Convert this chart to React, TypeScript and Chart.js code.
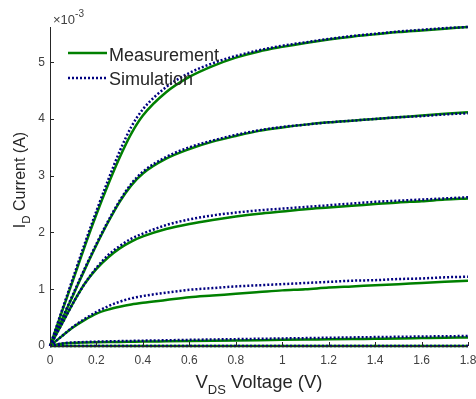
import React, { useEffect, useRef } from 'react';
import { Chart, registerables } from 'chart.js';

Chart.register(...registerables);

// V_DS sweep (V)
const vds = [0, 0.05, 0.1, 0.15, 0.2, 0.25, 0.3, 0.35, 0.4, 0.5, 0.6, 0.7, 0.8, 0.9, 1.0, 1.1, 1.2, 1.3, 1.4, 1.5, 1.6, 1.7, 1.8];

// Drain current in units of 1e-3 A
const measA = [0, 0.59, 1.17, 1.76, 2.32, 2.84, 3.32, 3.74, 4.06, 4.47, 4.74, 4.93, 5.08, 5.19, 5.27, 5.34, 5.4, 5.45, 5.49, 5.53, 5.56, 5.59, 5.62];
const simA = [0, 0.61, 1.21, 1.81, 2.38, 2.92, 3.43, 3.86, 4.17, 4.56, 4.81, 4.98, 5.11, 5.21, 5.29, 5.35, 5.41, 5.46, 5.5, 5.54, 5.57, 5.6, 5.62];
const measB = [0, 0.45, 0.9, 1.35, 1.78, 2.18, 2.54, 2.83, 3.04, 3.3, 3.47, 3.6, 3.7, 3.79, 3.85, 3.9, 3.94, 3.97, 4.0, 4.03, 4.06, 4.09, 4.12];
const simB = [0, 0.46, 0.92, 1.37, 1.8, 2.2, 2.56, 2.86, 3.07, 3.33, 3.5, 3.62, 3.72, 3.8, 3.86, 3.9, 3.94, 3.97, 4.0, 4.03, 4.05, 4.08, 4.1];
const measC = [0, 0.38, 0.76, 1.1, 1.36, 1.56, 1.72, 1.84, 1.93, 2.06, 2.15, 2.22, 2.28, 2.33, 2.37, 2.41, 2.44, 2.47, 2.5, 2.53, 2.55, 2.58, 2.6];
const simC = [0, 0.38, 0.76, 1.1, 1.38, 1.6, 1.76, 1.89, 1.98, 2.13, 2.23, 2.3, 2.35, 2.39, 2.42, 2.45, 2.48, 2.51, 2.54, 2.56, 2.58, 2.6, 2.62];
const measD = [0, 0.17, 0.33, 0.46, 0.57, 0.64, 0.69, 0.73, 0.76, 0.81, 0.86, 0.89, 0.92, 0.95, 0.98, 1.0, 1.03, 1.05, 1.07, 1.09, 1.11, 1.13, 1.15];
const simD = [0, 0.17, 0.34, 0.48, 0.6, 0.7, 0.78, 0.84, 0.88, 0.94, 0.99, 1.02, 1.05, 1.07, 1.09, 1.11, 1.13, 1.15, 1.16, 1.18, 1.19, 1.21, 1.22];
const measE = [0, 0.04, 0.055, 0.062, 0.067, 0.07, 0.072, 0.075, 0.078, 0.083, 0.088, 0.093, 0.098, 0.103, 0.108, 0.113, 0.118, 0.123, 0.128, 0.133, 0.139, 0.145, 0.15];
const simE = [0, 0.045, 0.062, 0.07, 0.077, 0.082, 0.086, 0.09, 0.094, 0.101, 0.108, 0.115, 0.121, 0.127, 0.133, 0.139, 0.145, 0.151, 0.157, 0.162, 0.167, 0.172, 0.176];
const measF = [0, 0, 0, 0, 0, 0, 0, 0, 0, 0, 0, 0, 0, 0, 0, 0, 0, 0, 0, 0, 0, 0, 0];
const simF = [0, 0, 0, 0, 0, 0, 0, 0, 0, 0, 0, 0, 0, 0, 0, 0, 0, 0, 0, 0, 0, 0, 0];

const measSeries = [measA, measB, measC, measD, measE, measF];
const simSeries = [simA, simB, simC, simD, simE, simF];

const xTicks = [0, 0.2, 0.4, 0.6, 0.8, 1.0, 1.2, 1.4, 1.6, 1.8];
const yTicks = [0, 1, 2, 3, 4, 5];
const xMax = 1.8;
const yMax = 5.62;

const legendLabels = ['Measurement', 'Simulation'];
const exponentBase = '\u00d710';
const exponentPower = '-3';

const GREEN = '#008000';
const NAVY = '#000080';
const AXIS = '#262626';
const LABEL = '#404040';
const FONT = '"Liberation Sans", Arial, sans-serif';

const decorPlugin = {
  id: 'decor',
  afterDraw(chart: any) {
    const { ctx, chartArea, scales } = chart;
    const { left, right, top, bottom } = chartArea;
    ctx.save();
    // axis lines
    ctx.strokeStyle = AXIS;
    ctx.lineWidth = 1;
    ctx.beginPath();
    ctx.moveTo(left + 0.5, top);
    ctx.lineTo(left + 0.5, bottom + 0.5);
    ctx.lineTo(right, bottom + 0.5);
    ctx.stroke();
    // inward ticks
    ctx.beginPath();
    xTicks.forEach((v) => {
      const x = Math.round(scales.x.getPixelForValue(v)) + 0.5;
      ctx.moveTo(x, bottom);
      ctx.lineTo(x, bottom - 4);
    });
    yTicks.forEach((v) => {
      const y = Math.round(scales.y.getPixelForValue(v)) + 0.5;
      ctx.moveTo(left, y);
      ctx.lineTo(left + 4, y);
    });
    ctx.stroke();

    // exponent label
    ctx.fillStyle = LABEL;
    ctx.textBaseline = 'alphabetic';
    ctx.textAlign = 'left';
    ctx.font = `13px ${FONT}`;
    ctx.fillText(exponentBase, left + 3, top - 3);
    const bw = ctx.measureText(exponentBase).width;
    ctx.font = `10px ${FONT}`;
    ctx.fillText(exponentPower, left + 3 + bw, top - 10);

    // legend
    const lx0 = 68, lx1 = 107;
    ctx.lineWidth = 2.5;
    ctx.strokeStyle = GREEN;
    ctx.setLineDash([]);
    ctx.beginPath();
    ctx.moveTo(lx0, 53);
    ctx.lineTo(lx1, 53);
    ctx.stroke();
    ctx.strokeStyle = NAVY;
    ctx.setLineDash([2, 2]);
    ctx.beginPath();
    ctx.moveTo(lx0, 78);
    ctx.lineTo(lx1, 78);
    ctx.stroke();
    ctx.setLineDash([]);
    ctx.fillStyle = AXIS;
    ctx.font = `18px ${FONT}`;
    ctx.fillText(legendLabels[0], 109, 61);
    ctx.fillText(legendLabels[1], 109, 85);

    // x title: V_DS Voltage (V)
    const big = `18.5px ${FONT}`;
    const small = `13px ${FONT}`;
    ctx.fillStyle = AXIS;
    ctx.font = big;
    const wV = ctx.measureText('V').width;
    const wRest = ctx.measureText(' Voltage (V)').width;
    ctx.font = small;
    const wDS = ctx.measureText('DS').width;
    const total = wV + wDS + wRest;
    let x = (left + right) / 2 - total / 2;
    const by = 388;
    ctx.font = big;
    ctx.fillText('V', x, by);
    x += wV;
    ctx.font = small;
    ctx.fillText('DS', x, by + 6);
    x += wDS;
    ctx.font = big;
    ctx.fillText(' Voltage (V)', x, by);

    // y title: I_D Current (A)
    const bigY = `16px ${FONT}`;
    const smallY = `11.5px ${FONT}`;
    ctx.font = bigY;
    const wI = ctx.measureText('I').width;
    const wCur = ctx.measureText(' Current (A)').width;
    ctx.font = smallY;
    const wD = ctx.measureText('D').width;
    const totY = wI + wD + wCur;
    ctx.translate(25, 180 + totY / 2);
    ctx.rotate(-Math.PI / 2);
    let t = 0;
    ctx.font = bigY;
    ctx.fillText('I', t, 0);
    t += wI;
    ctx.font = smallY;
    ctx.fillText('D', t, 5);
    t += wD;
    ctx.font = bigY;
    ctx.fillText(' Current (A)', t, 0);
    ctx.restore();
  },
};

export default function App() {
  const ref = useRef<HTMLCanvasElement | null>(null);

  useEffect(() => {
    if (!ref.current) return;
    Chart.defaults.font.family = FONT;
    const datasets: any[] = [];
    simSeries.forEach((s, i) => {
      datasets.push({
        label: `Simulation ${i + 1}`,
        data: vds.map((v, j) => ({ x: v, y: s[j] })),
        borderColor: NAVY,
        borderWidth: 2.5,
        borderDash: [2, 2],
        pointRadius: 0,
        cubicInterpolationMode: 'monotone',
        clip: false,
        order: 0,
      });
    });
    measSeries.forEach((s, i) => {
      datasets.push({
        label: `Measurement ${i + 1}`,
        data: vds.map((v, j) => ({ x: v, y: s[j] })),
        borderColor: GREEN,
        borderWidth: 2.5,
        pointRadius: 0,
        cubicInterpolationMode: 'monotone',
        clip: false,
        order: 1,
      });
    });

    const chart = new Chart(ref.current, {
      type: 'line',
      data: { datasets },
      options: {
        responsive: false,
        animation: false,
        layout: { padding: { left: 0, right: 8, top: 27, bottom: 0 } },
        plugins: { legend: { display: false }, tooltip: { enabled: false } },
        scales: {
          x: {
            type: 'linear',
            min: 0,
            max: xMax,
            grid: { display: false, drawTicks: false },
            border: { display: false },
            afterBuildTicks: (s: any) => {
              s.ticks = xTicks.map((v) => ({ value: v }));
            },
            afterFit: (s: any) => {
              s.height = 53;
              s.paddingLeft = 0;
              s.paddingRight = 0;
            },
            ticks: {
              color: LABEL,
              font: { size: 12 },
              padding: 7,
              maxRotation: 0,
              autoSkip: false,
              callback: (v: any) => String(Math.round(Number(v) * 10) / 10),
            },
          },
          y: {
            type: 'linear',
            min: 0,
            max: yMax,
            grid: { display: false, drawTicks: false },
            border: { display: false },
            afterBuildTicks: (s: any) => {
              s.ticks = yTicks.map((v) => ({ value: v }));
            },
            afterFit: (s: any) => {
              s.width = 50;
              s.paddingTop = 0;
              s.paddingBottom = 0;
            },
            ticks: {
              color: LABEL,
              font: { size: 12 },
              padding: 5,
              autoSkip: false,
              callback: (v: any) => String(v),
            },
          },
        },
      } as any,
      plugins: [decorPlugin],
    });
    return () => chart.destroy();
  }, []);

  return (
    <div style={{ position: 'absolute', left: 0, top: 0, width: 476, height: 399, background: '#fff' }}>
      <canvas ref={ref} width={476} height={399} style={{ display: 'block' }} />
    </div>
  );
}
